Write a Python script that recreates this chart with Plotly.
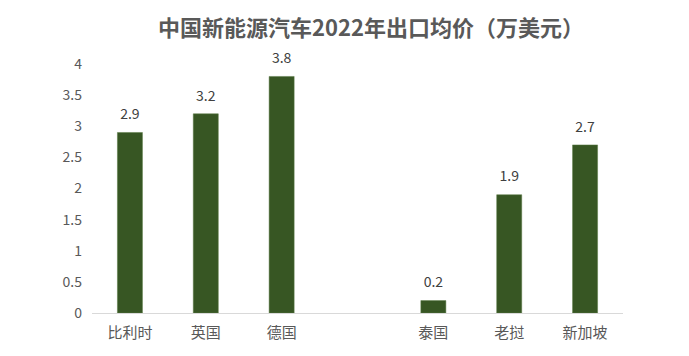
import plotly.graph_objects as go

categories = ["比利时", "英国", "德国", " ", "泰国", "老挝", "新加坡"]
values = [2.9, 3.2, 3.8, None, 0.2, 1.9, 2.7]
labels = ["2.9", "3.2", "3.8", "", "0.2", "1.9", "2.7"]
y_ticks = [0, 0.5, 1, 1.5, 2, 2.5, 3, 3.5, 4]
y_tick_text = ["0", "0.5", "1", "1.5", "2", "2.5", "3", "3.5", "4"]

font_family = "Noto Sans CJK SC, Noto Sans, sans-serif"

fig = go.Figure()
fig.add_trace(
    go.Bar(
        x=categories,
        y=values,
        marker=dict(color="#375623", line=dict(color="#5a7a45", width=0.5)),
        hoverinfo="x+y",
    )
)
fig.add_trace(
    go.Scatter(
        x=categories,
        y=values,
        mode="markers+text",
        text=labels,
        textposition="top center",
        marker=dict(size=14, opacity=0),
        textfont=dict(size=14, color="#404040", family=font_family),
        cliponaxis=False,
        hoverinfo="skip",
    )
)

fig.update_layout(
    width=689,
    height=356,
    margin=dict(l=92, r=66, t=64, b=43),
    paper_bgcolor="white",
    plot_bgcolor="white",
    bargap=0.67,
    showlegend=False,
    title=dict(
        text="<b>中国新能源汽车2022年出口均价（万美元）</b>",
        x=371 / 689,
        xanchor="center",
        y=1 - 28 / 356,
        yanchor="middle",
        font=dict(size=22, color="#595959", family=font_family),
    ),
    xaxis=dict(
        type="category",
        categoryorder="array",
        categoryarray=categories,
        showline=True,
        linecolor="#d9d9d9",
        linewidth=1,
        ticks="",
        ticklabelstandoff=6,
        tickfont=dict(size=15, color="#595959", family=font_family),
        showgrid=False,
        automargin=False,
    ),
    yaxis=dict(
        range=[0, 4],
        tickvals=y_ticks,
        ticktext=y_tick_text,
        showgrid=False,
        zeroline=False,
        showline=False,
        ticks="",
        ticklabelstandoff=9,
        tickfont=dict(size=14, color="#595959", family=font_family),
        automargin=False,
    ),
)

fig.write_html(
    "out.html",
    config={"displayModeBar": False},
    post_script="document.body.style.margin='0';",
)
